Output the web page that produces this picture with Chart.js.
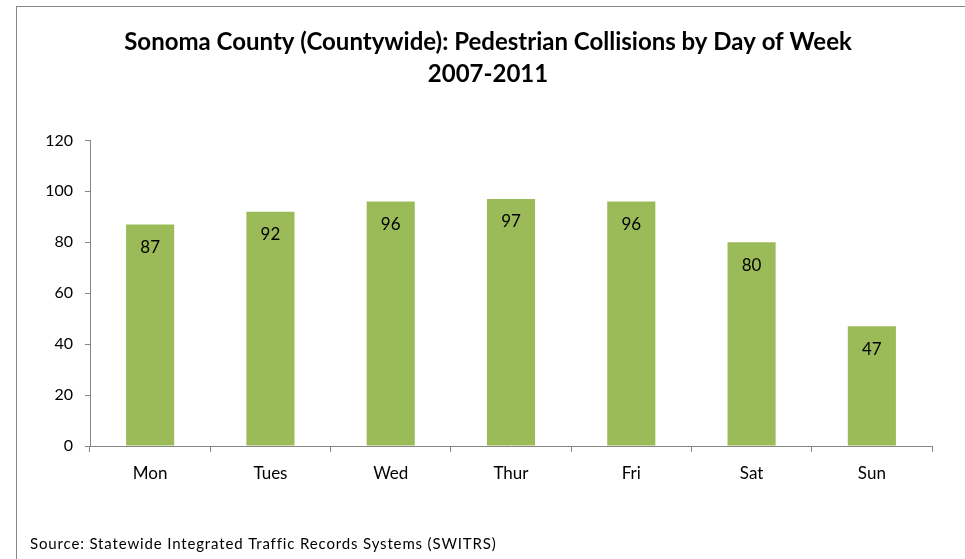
<!DOCTYPE html>
<html><head><meta charset="utf-8">
<script src="https://cdn.jsdelivr.net/npm/chart.js@4"></script>
<style>html,body{margin:0;padding:0;background:#fff}#wrap{width:965px;height:559px}</style>
</head><body><div id="wrap"><canvas id="c" width="965" height="559"></canvas></div>
<script>
const categories = ["Mon","Tues","Wed","Thur","Fri","Sat","Sun"];
const collisions = [87,92,96,97,96,80,47];
const yTicks = [0,20,40,60,80,100,120];
const titleLines = ["Sonoma County (Countywide): Pedestrian Collisions by Day of Week","2007-2011"];
const sourceText = "Source: Statewide Integrated Traffic Records Systems (SWITRS)";

const FONT = "Lato, 'Open Sans', sans-serif";

const extras = {
  id:'extras',
  beforeDraw(chart){
    const ctx = chart.ctx;
    ctx.save();
    ctx.strokeStyle = '#888888'; ctx.lineWidth = 1;
    ctx.strokeRect(16.5, 6.5, 1000, 600);
    ctx.restore();
  },
  afterDatasetsDraw(chart){
    const ctx = chart.ctx;
    const meta = chart.getDatasetMeta(0);
    ctx.save();
    ctx.font = "17px " + FONT;
    ctx.fillStyle = '#000';
    ctx.textAlign = 'center'; ctx.textBaseline = 'middle';
    meta.data.forEach((bar,i)=>{
      ctx.fillText(String(chart.data.datasets[0].data[i]), bar.x, bar.y + 23);
    });
    ctx.textAlign = 'left';
    ctx.font = "15px " + FONT;
    try { ctx.letterSpacing = '0.85px'; } catch(e) {}
    ctx.fillText(sourceText, 30, 544);
    ctx.restore();
  }
};

new Chart(document.getElementById('c'), {
  type:'bar',
  data:{ labels:categories, datasets:[{ data:collisions, backgroundColor:'#9BBB59', barPercentage:0.4, categoryPercentage:1 }]},
  options:{
    responsive:false, animation:false,
    layout:{padding:{left:44,right:33,top:0,bottom:0}},
    plugins:{
      legend:{display:false}, tooltip:{enabled:false},
      title:{display:true, text:titleLines, color:'#000', font:{family:FONT, size:24, weight:'bold', lineHeight:1.3}, padding:{top:27,bottom:51}}
    },
    scales:{
      x:{
        grid:{drawOnChartArea:false, color:'#868686', tickLength:6, offset:true},
        border:{color:'#868686'},
        ticks:{color:'#000', font:{family:FONT,size:17}, padding:11},
        afterFit(s){ s.height = 113; }
      },
      y:{
        min:0, max:120,
        afterBuildTicks(s){ s.ticks = yTicks.map(v=>({value:v})); },
        grid:{drawOnChartArea:false, color:'#868686', tickLength:5},
        border:{color:'#868686'},
        ticks:{color:'#000', font:{family:FONT,size:16}, padding:12},
        afterFit(s){ s.width = 46; }
      }
    }
  },
  plugins:[extras]
});
</script></body></html>
